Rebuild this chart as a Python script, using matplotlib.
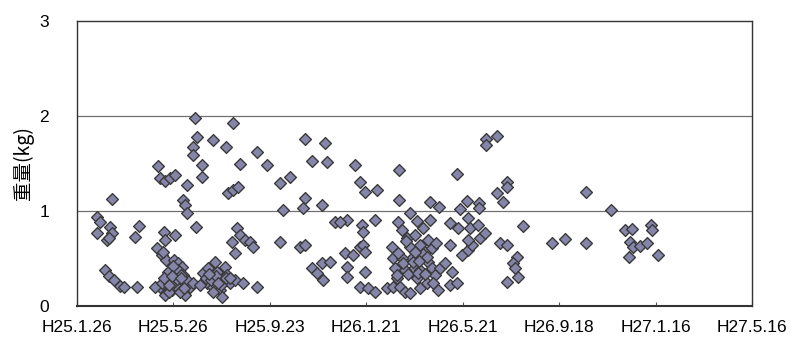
import matplotlib
matplotlib.use("Agg")
import matplotlib.pyplot as plt

plt.rcParams['font.family'] = ['Liberation Sans', 'Noto Sans CJK JP', 'DejaVu Sans']

# x: days since H25.1.26, y: weight (kg)
days = [25, 29, 25, 37, 41, 44, 40, 44, 35, 40, 46, 54, 58, 75, 72, 77,
        101, 103, 110, 116, 122, 137, 132, 134, 137, 148, 147, 149, 144, 144, 156, 156,
        100, 108, 110, 122, 106, 111, 121, 126, 131, 103, 112, 116, 124, 128, 137, 141,
        110, 134, 97, 118, 119, 113, 126, 122, 132, 144, 106, 115, 128, 107,
        157, 166, 174, 182, 162, 169, 178, 190, 197, 207, 180, 224, 172, 184, 153, 163,
        174, 187, 169, 197, 193, 199, 203, 209, 215, 219, 169, 185, 194, 203, 188, 194,
        200, 224, 236,
        253, 265, 256, 253, 278, 284, 284, 309, 292, 311, 284, 281, 305, 292, 299, 306,
        305, 315, 321, 336, 327, 346, 352, 358, 373, 355, 356, 371, 352, 356, 358, 334,
        343, 336, 336, 358, 352, 362, 371, 386, 393,
        401, 401, 439, 450, 473, 399, 414, 423, 431, 439, 464, 474, 487, 489, 499,
        392, 393, 396, 398, 402, 408, 411, 414, 417, 419, 423, 427, 427, 433, 437, 442,
        447, 437, 442, 446, 436, 449, 414, 404, 421, 452, 458, 404, 408, 431, 427, 443,
        464, 467, 464, 473, 479, 487, 492, 487, 501, 508, 509, 509, 523, 535, 535, 523,
        530, 485, 477, 500, 500, 555, 526, 535, 548, 543, 545, 549, 535,
        591, 607, 633, 633, 665, 682, 691, 714, 716, 688, 692, 701, 709, 687, 723,
        # densely overlapping points inside the clusters
        117, 121, 125, 129, 114, 120, 133, 108, 118, 130,
        160, 167, 173, 179, 185, 164, 176, 190,
        400, 406, 412, 418, 424, 430, 436, 410, 420, 433, 398, 426]

weights = [0.94, 0.88, 0.77, 0.69, 0.83, 0.77, 0.72, 1.13, 0.38, 0.32, 0.27, 0.21, 0.20, 0.20, 0.73, 0.84,
           1.47, 1.35, 1.32, 1.35, 1.38, 1.27, 1.12, 1.06, 0.98, 0.83, 1.98, 1.78, 1.67, 1.59, 1.48, 1.36,
           0.61, 0.78, 0.69, 0.75, 0.54, 0.48, 0.48, 0.45, 0.41, 0.20, 0.27, 0.35, 0.31, 0.24, 0.27, 0.20,
           0.12, 0.12, 0.20, 0.17, 0.40, 0.36, 0.38, 0.22, 0.33, 0.24, 0.24, 0.15, 0.15, 0.57,
           0.35, 0.31, 0.27, 0.27, 0.24, 0.20, 0.17, 0.24, 0.27, 0.24, 0.09, 0.20, 0.46, 0.41, 0.22, 0.40,
           0.36, 0.33, 0.15, 0.56, 0.67, 0.82, 0.75, 0.69, 0.67, 0.62, 1.75, 1.67, 1.93, 1.49, 1.19, 1.22,
           1.25, 1.62, 1.48,
           1.29, 1.36, 1.01, 0.67, 0.62, 0.64, 1.76, 1.72, 1.53, 1.52, 1.14, 1.03, 1.06, 0.40, 0.35, 0.27,
           0.45, 0.46, 0.88, 0.91, 0.88, 1.48, 1.31, 1.20, 1.22, 0.85, 0.78, 0.91, 0.62, 0.64, 0.57, 0.56,
           0.54, 0.41, 0.31, 0.36, 0.20, 0.19, 0.15, 0.19, 0.20,
           1.43, 1.12, 1.09, 1.04, 1.39, 0.88, 0.98, 0.89, 0.82, 0.91, 0.87, 0.82, 0.93, 0.82, 0.85,
           0.62, 0.51, 0.40, 0.29, 0.20, 0.15, 0.72, 0.62, 0.51, 0.40, 0.29, 0.19, 0.64, 0.57, 0.69, 0.61,
           0.66, 0.46, 0.40, 0.33, 0.24, 0.17, 0.14, 0.80, 0.75, 0.40, 0.45, 0.51, 0.38, 0.54, 0.38, 0.24,
           0.64, 0.36, 0.22, 0.24, 0.54, 0.59, 0.64, 0.69, 0.72, 0.77, 1.76, 1.69, 1.79, 1.31, 1.25, 1.19,
           1.09, 1.11, 1.02, 1.08, 1.03, 0.84, 0.66, 0.64, 0.52, 0.45, 0.40, 0.31, 0.25,
           0.66, 0.71, 0.66, 1.20, 1.01, 0.80, 0.81, 0.85, 0.80, 0.67, 0.62, 0.63, 0.66, 0.52, 0.54,
           0.30, 0.25, 0.28, 0.33, 0.22, 0.42, 0.19, 0.30, 0.32, 0.29,
           0.30, 0.27, 0.32, 0.22, 0.30, 0.34, 0.24, 0.30,
           0.56, 0.45, 0.34, 0.46, 0.35, 0.55, 0.52, 0.68, 0.57, 0.34, 0.33, 0.47]

tick_days = [0, 120, 240, 360, 480, 600, 720, 840]
tick_labels = ["H25.1.26", "H25.5.26", "H25.9.23", "H26.1.21",
               "H26.5.21", "H26.9.18", "H27.1.16", "H27.5.16"]
y_ticks = [0, 1, 2, 3]

fig = plt.figure(figsize=(7.93, 3.5), dpi=100)
ax = fig.add_axes([0.0971, 0.1257, 0.8512, 0.8143])

for y in [1, 2]:
    ax.axhline(y, color='#707070', lw=0.9, zorder=1)

ax.scatter(days, weights, marker='D', s=36, facecolor='#8585aa',
           edgecolor='#3a3a3a', linewidths=1.0, zorder=3)

ax.set_xlim(0, 840)
ax.set_ylim(0, 3)
ax.set_xticks(tick_days)
ax.set_xticklabels(tick_labels, fontsize=12.5)
ax.set_yticks(y_ticks)
ax.set_yticklabels([str(v) for v in y_ticks], fontsize=12.5)
ax.tick_params(axis='x', direction='in', length=3, pad=10, color='#555555')
ax.tick_params(axis='y', length=0, pad=20)
for sp in ax.spines.values():
    sp.set_color('#333333')
    sp.set_linewidth(1.0)
ax.spines['bottom'].set_linewidth(1.5)

ax.set_ylabel('重量(kg)', fontsize=14, family=['Noto Sans CJK JP'], labelpad=4)

fig.savefig('out.png', dpi=100)
